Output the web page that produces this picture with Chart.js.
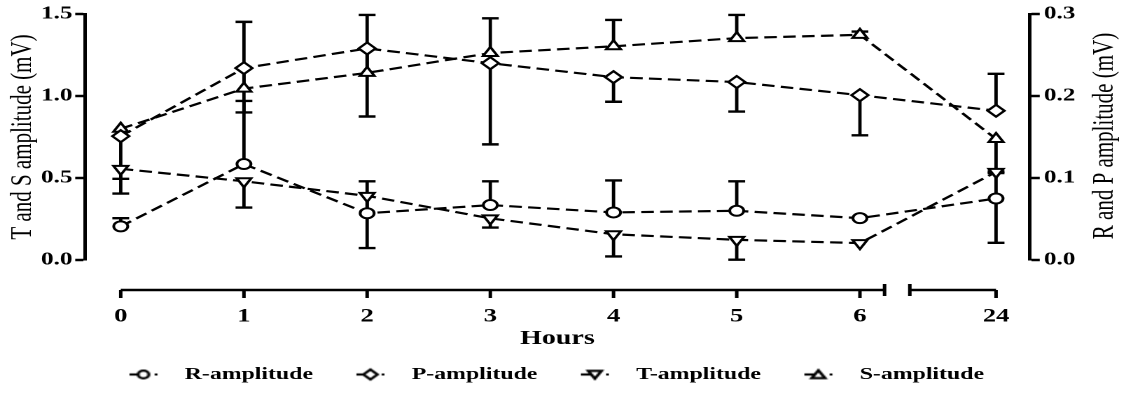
<!DOCTYPE html>
<html>
<head>
<meta charset="utf-8">
<script src="https://cdn.jsdelivr.net/npm/chart.js@4.4.1/dist/chart.umd.min.js"></script>
<style>
  html, body { margin:0; padding:0; background:#fff; overflow:hidden; }
  /* the original figure is stretched sideways, so the canvas is too */
  #wrap { width:804px; height:393px; transform:scaleX(1.4005); transform-origin:0 0; }
</style>
</head>
<body>
<div id="wrap"><canvas id="myChart"></canvas></div>
<script>
const hours = [0, 1, 2, 3, 4, 5, 6, 24];
const seriesNames = ['R-amplitude', 'P-amplitude', 'T-amplitude', 'S-amplitude'];

// R and P (right axis, mV)
const rAmp  = [0.041, 0.117, 0.057, 0.067, 0.058, 0.060, 0.051, 0.075];
const rLow  = [null, null, null, null, null, null, null, 0.021];
const rHigh = [0.051, 0.194, 0.096, 0.096, 0.097, 0.096, null, 0.106];

const pAmp  = [0.151, 0.234, 0.258, 0.240, 0.223, 0.217, 0.201, 0.182];
const pLow  = [0.099, 0.180, 0.175, 0.141, 0.193, 0.181, 0.152, null];
const pHigh = [null, null, null, null, null, null, null, 0.227];

// T and S (left axis, mV)
const tAmp  = [0.556, 0.480, 0.391, 0.254, 0.157, 0.123, 0.103, 0.537];
const tLow  = [0.405, 0.320, 0.073, 0.198, 0.022, 0.002, null, null];
const tHigh = [null, null, null, null, null, null, null, null];

const sAmp  = [0.800, 1.045, 1.141, 1.262, 1.303, 1.353, 1.373, 0.738];
const sLow  = [null, null, null, null, null, null, null, 0.540];
const sHigh = [null, 1.452, 1.494, 1.474, 1.464, 1.494, 1.393, null];

const leftTicks = [0, 0.5, 1.0, 1.5];
const rightTicks = [0, 0.1, 0.2, 0.3];

// axis break between 6 and 24 h
const breakStart = 6.20, breakEnd = 6.405, lastPos = 7.105;
function hourPos(h) { return h <= 6 ? h : lastPos; }

const lows = [rLow, pLow, tLow, sLow];
const highs = [rHigh, pHigh, tHigh, sHigh];

const serif = '"Liberation Serif", "Times New Roman", serif';

function makeIcon(kind) {
  const c = document.createElement('canvas');
  c.width = 54; c.height = 16;
  const g = c.getContext('2d');
  const L = 23, my = 8, mx = L + 10;
  g.strokeStyle = '#000'; g.fillStyle = '#fff'; g.lineWidth = 2.2;
  g.beginPath(); g.moveTo(L, my); g.lineTo(mx - 3, my); g.stroke();
  g.beginPath();
  if (kind === 'circle') {
    g.arc(mx, my, 3.8, 0, Math.PI * 2);
  } else if (kind === 'diamond') {
    g.moveTo(mx - 5, my); g.lineTo(mx, my - 5); g.lineTo(mx + 5, my); g.lineTo(mx, my + 5); g.closePath();
  } else if (kind === 'down') {
    g.moveTo(mx - 4.8, my - 3.6); g.lineTo(mx + 4.8, my - 3.6); g.lineTo(mx, my + 4.2); g.closePath();
  } else {
    g.moveTo(mx - 4.8, my + 3.6); g.lineTo(mx + 4.8, my + 3.6); g.lineTo(mx, my - 4.2); g.closePath();
  }
  g.fill(); g.stroke();
  g.fillStyle = '#000';
  g.fillRect(L + 18, my - 1, 2, 2);
  return c;
}
const legendIcons = [makeIcon('circle'), makeIcon('diamond'), makeIcon('down'), makeIcon('up')];

function series(label, values, axis, style, rot) {
  return {
    label: label,
    data: hours.map((h, i) => ({ x: hourPos(h), y: values[i] })),
    yAxisID: axis,
    borderColor: '#000',
    borderWidth: 2.2,
    borderDash: [9, 4.5],
    fill: false,
    tension: 0,
    pointStyle: style,
    pointRotation: rot || 0,
    pointRadius: style === 'circle' ? 5 : 6,
    pointBackgroundColor: '#fff',
    pointBorderColor: '#000',
    pointBorderWidth: 2
  };
}

const errorBars = {
  id: 'errorBars',
  beforeDatasetsDraw(chart) {
    const ctx = chart.ctx;
    const xs = chart.scales.x;
    ctx.save();
    ctx.strokeStyle = '#000';
    ctx.lineWidth = 2.4;
    chart.data.datasets.forEach((ds, i) => {
      const ys = chart.scales[ds.yAxisID];
      hours.forEach((h, j) => {
        const px = xs.getPixelForValue(hourPos(h));
        const py = ys.getPixelForValue(ds.data[j].y);
        [lows[i][j], highs[i][j]].forEach(v => {
          if (v == null) return;
          const pe = ys.getPixelForValue(v);
          ctx.beginPath();
          ctx.moveTo(px, py); ctx.lineTo(px, pe);
          ctx.moveTo(px - 6, pe); ctx.lineTo(px + 6, pe);
          ctx.stroke();
        });
      });
    });
    ctx.restore();
  }
};

// broken x axis line, drawn a bit below the plot
const brokenAxis = {
  id: 'brokenAxis',
  afterDraw(chart) {
    const ctx = chart.ctx;
    const xs = chart.scales.x;
    const y = 290;
    const a = xs.getPixelForValue(0), b = xs.getPixelForValue(breakStart);
    const c = xs.getPixelForValue(breakEnd), d = xs.getPixelForValue(lastPos);
    ctx.save();
    ctx.strokeStyle = '#000';
    ctx.lineWidth = 2.5;
    ctx.beginPath();
    ctx.moveTo(a, y); ctx.lineTo(b, y);
    ctx.moveTo(c, y); ctx.lineTo(d, y);
    hours.forEach(h => {
      const px = xs.getPixelForValue(hourPos(h));
      ctx.moveTo(px, y); ctx.lineTo(px, y + 8);
    });
    ctx.moveTo(b, y - 6); ctx.lineTo(b, y + 6);
    ctx.moveTo(c, y - 6); ctx.lineTo(c, y + 6);
    ctx.stroke();
    ctx.restore();
  }
};

// right title reads bottom to top, like the left one
const rightTitle = {
  id: 'rightTitle',
  afterDraw(chart) {
    const ctx = chart.ctx;
    ctx.save();
    ctx.translate(789, 136);
    ctx.rotate(-Math.PI / 2);
    ctx.fillStyle = '#000';
    ctx.font = '21px ' + serif;
    ctx.textAlign = 'center';
    ctx.textBaseline = 'middle';
    ctx.fillText('R and P amplitude (mV)', 0, 0);
    ctx.restore();
  }
};

const ctx = document.getElementById('myChart');

new Chart(ctx, {
  type: 'line',
  data: {
    datasets: [
      series(seriesNames[0], rAmp, 'y1', 'circle'),
      series(seriesNames[1], pAmp, 'y1', 'rectRot'),
      series(seriesNames[2], tAmp, 'y', 'triangle', 180),
      series(seriesNames[3], sAmp, 'y', 'triangle')
    ]
  },
  options: {
    responsive: true,
    maintainAspectRatio: false,
    animation: false,
    devicePixelRatio: 2,
    events: [],
    layout: { padding: { left: 0, right: 32, top: 14, bottom: 0 } },
    scales: {
      x: {
        type: 'linear',
        min: -0.29,
        max: 7.38,
        afterBuildTicks: s => { s.ticks = hours.map(h => ({ value: hourPos(h) })); },
        afterFit: s => { s.height = 98; },
        grid: { display: false, drawTicks: false },
        border: { display: false },
        ticks: {
          autoSkip: false,
          maxRotation: 0,
          padding: 45,
          color: '#000',
          font: { family: serif, size: 19, weight: 'bold' },
          callback: v => {
            const i = hours.findIndex(h => hourPos(h) === v);
            return i < 0 ? '' : String(hours[i]);
          }
        },
        title: {
          display: true,
          text: 'Hours',
          color: '#000',
          font: { family: serif, size: 20, weight: 'bold' },
          padding: { top: 0, bottom: 7 }
        }
      },
      y: {
        position: 'left',
        min: 0,
        max: 1.5,
        afterBuildTicks: s => { s.ticks = leftTicks.map(v => ({ value: v })); },
        afterFit: s => { s.width = 60.7; },
        grid: { drawOnChartArea: false, drawTicks: true, tickLength: 7, tickWidth: 2.5, tickColor: '#000' },
        border: { display: true, color: '#000', width: 2.5 },
        ticks: {
          padding: 2,
          color: '#000',
          font: { family: serif, size: 18, weight: 'bold' },
          callback: v => v.toFixed(1)
        },
        title: {
          display: true,
          text: 'T and S amplitude (mV)',
          color: '#000',
          font: { family: serif, size: 21 },
          padding: { top: 4, bottom: 0 }
        }
      },
      y1: {
        position: 'right',
        min: 0,
        max: 0.3,
        afterBuildTicks: s => { s.ticks = rightTicks.map(v => ({ value: v })); },
        afterFit: s => { s.width = 36.6; },
        grid: { drawOnChartArea: false, drawTicks: true, tickLength: 7, tickWidth: 2.5, tickColor: '#000' },
        border: { display: true, color: '#000', width: 2.5 },
        ticks: {
          padding: 3,
          color: '#000',
          font: { family: serif, size: 18, weight: 'bold' },
          callback: v => v.toFixed(1)
        }
      }
    },
    plugins: {
      tooltip: { enabled: false },
      legend: {
        position: 'bottom',
        labels: {
          usePointStyle: true,
          pointStyleWidth: 54,
          padding: 8,
          color: '#000',
          font: { family: serif, size: 17, weight: 'bold' },
          generateLabels: chart => {
            const items = Chart.defaults.plugins.legend.labels.generateLabels(chart);
            items.forEach((it, i) => { it.pointStyle = legendIcons[i]; it.rotation = 0; });
            return items;
          }
        }
      }
    }
  },
  plugins: [errorBars, brokenAxis, rightTitle]
});
</script>
</body>
</html>
